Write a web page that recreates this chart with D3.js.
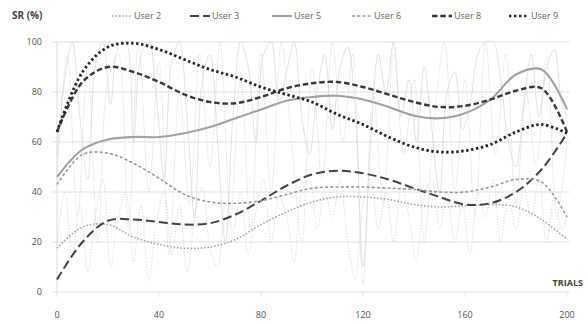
<!DOCTYPE html>
<html>
<head>
<meta charset="utf-8">
<script src="https://cdn.jsdelivr.net/npm/d3@7"></script>
<style>
  html, body { margin: 0; padding: 0; background: #fff; }
  svg { display: block; font-family: "Open Sans", "Liberation Sans", sans-serif; }
</style>
</head>
<body>
<svg id="chart" width="588" height="324"></svg>
<script>
// Trial positions of the smoothed trend curves
const trendTrials = [0,10,20,30,40,50,60,70,80,90,100,110,120,130,140,150,160,170,180,190,200];

// Trend curves of success rate (%) per user
const user2 = [17.5,26,27,22,19,17.5,18,21,27,32,36,38,38,37,35,34,34.5,35,34,29,21];
const user3 = [5,20,28.5,29,28,27,27.5,31,36.5,42.5,47,48.5,47.5,45,41.5,38,35,35.5,40,49,63.5];
const user5 = [46,57,61,62,62,63.5,66,69.5,73,76.5,78,78.5,77,74,70.5,69.5,71.5,77,87,89,73];
const user6 = [43,55,55.5,51.5,45.5,39,36,35.5,36.5,39,41.5,42,42,41.5,41,40,40,42,45,44,30];
const user8 = [64,84,90,88,84,79,76,75.5,78,81.5,83.5,84,82,79,76,74,74.5,77,80.5,81.5,64];
const user9 = [64,88,98,99.5,97,93,89,86,82,79,76,71,67,62,58,56,56.5,59,64,67,63.5];

// Raw per-trial success rates (thin background traces)
const rawTrialsA = [0,3,6,9,12,15,18,21,24,27,30,33,36,39,42,45,48,51,54,57,60,63,66,69,72,75,78,81,84,87,90,93,96,99,102,105,108,111,114,117,120,123,126,129,132,135,138,141,144,147,150,153,156,159,162,165,168,171,174,177,180,183,186,189,192,195,198,200];
const rawHigh = [55,85,100,70,45,90,100,75,98,100,60,95,100,78,45,92,100,70,30,85,95,60,20,70,100,90,60,95,100,75,88,100,70,55,80,95,65,90,98,72,10,60,95,80,100,70,85,60,90,65,40,80,88,65,75,95,100,100,85,60,50,75,95,70,90,97,75,70];
const rawLow = [20,40,15,35,8,30,45,10,30,40,12,35,5,28,40,15,35,8,30,42,18,10,35,25,40,15,32,45,20,38,30,12,40,45,25,40,30,45,20,5,35,45,25,40,20,42,30,12,38,45,25,40,20,35,15,40,30,45,20,38,25,42,30,45,20,38,25,30];
const rawTrialsB = [0,4,8,12,16,20,24,28,32,36,40,44,48,52,56,60,64,68,72,76,80,84,88,92,96,100,104,108,112,116,120,124,128,132,136,140,144,148,152,156,160,164,168,172,176,180,184,188,192,196,200];
const rawMid = [45,95,30,90,20,85,95,25,100,40,92,15,80,35,95,50,100,30,85,25,95,40,100,60,20,90,45,100,60,95,3,80,35,95,55,85,20,70,100,40,85,30,100,55,95,35,80,50,95,30,60];

const yTicks = [0,20,40,60,80,100];
const xTicks = [0,40,80,120,160,200];

const svg = d3.select("#chart");
const x = d3.scaleLinear().domain([0,200]).range([57,567]);
const y = d3.scaleLinear().domain([0,100]).range([292,42]);

// Horizontal gridlines
svg.append("g").selectAll("line").data(yTicks).join("line")
  .attr("x1", 52).attr("x2", 570)
  .attr("y1", d => y(d)).attr("y2", d => y(d))
  .attr("stroke", "#e2e2e2").attr("stroke-width", 1.2);

// Vertical axis line
svg.append("line").attr("x1", x(0)).attr("x2", x(0))
  .attr("y1", y(100)).attr("y2", y(0))
  .attr("stroke", "#dcdcdc").attr("stroke-width", 1);

// Y tick labels
svg.append("g").selectAll("text").data(yTicks).join("text")
  .attr("x", 42).attr("y", d => y(d)).attr("dy", "0.35em")
  .attr("text-anchor", "end").attr("font-size", 9).attr("fill", "#555")
  .text(d => d);

// X tick labels
svg.append("g").selectAll("text").data(xTicks).join("text")
  .attr("x", d => x(d)).attr("y", 318)
  .attr("text-anchor", "middle").attr("font-size", 9).attr("fill", "#555")
  .text(d => d);

// Small tick marks below the baseline
svg.append("g").selectAll("line").data(xTicks).join("line")
  .attr("x1", d => x(d)).attr("x2", d => x(d))
  .attr("y1", y(0)).attr("y2", y(0) + 5)
  .attr("stroke", "#e2e2e2");

// Axis titles
svg.append("text").attr("x", 12).attr("y", 19)
  .attr("font-size", 10).attr("font-weight", "bold").attr("fill", "#444").text("SR (%)");
svg.append("text").attr("x", 583).attr("y", 286).attr("text-anchor", "end")
  .attr("font-size", 9).attr("font-weight", "bold").attr("fill", "#444").text("TRIALS");

const plot = svg.append("g");

// Raw traces
const rawLine = (xs) => d3.line().x((d, i) => x(xs[i])).y(d => y(d)).curve(d3.curveCatmullRom.alpha(0.5));
plot.append("path").attr("d", rawLine(rawTrialsA)(rawLow))
  .attr("fill", "none").attr("stroke", "#d6d6d6").attr("stroke-width", 0.8).attr("stroke-dasharray", "1.5,1.5");
plot.append("path").attr("d", rawLine(rawTrialsB)(rawMid))
  .attr("fill", "none").attr("stroke", "#d4d4d4").attr("stroke-width", 0.8).attr("stroke-dasharray", "1.2,1.2");
plot.append("path").attr("d", rawLine(rawTrialsA)(rawHigh))
  .attr("fill", "none").attr("stroke", "#d9d9d9").attr("stroke-width", 0.8);

// Trend curves and their styles
const series = [
  { name: "User 2", values: user2, color: "#a9a9a9", width: 1.6, dash: "1.6,1.8" },
  { name: "User 3", values: user3, color: "#454545", width: 2, dash: "9,4" },
  { name: "User 5", values: user5, color: "#a2a2a2", width: 2.1, dash: null },
  { name: "User 6", values: user6, color: "#9c9c9c", width: 1.6, dash: "3,2.2" },
  { name: "User 8", values: user8, color: "#3a3a3a", width: 2.4, dash: "5.5,2.8" },
  { name: "User 9", values: user9, color: "#262626", width: 2.8, dash: "2.4,2.6" }
];

const trend = d3.line().x((d, i) => x(trendTrials[i])).y(d => y(d)).curve(d3.curveCatmullRom.alpha(0.5));
plot.selectAll("path.trend").data(series).join("path")
  .attr("class", "trend")
  .attr("d", d => trend(d.values))
  .attr("fill", "none")
  .attr("stroke", d => d.color)
  .attr("stroke-width", d => d.width)
  .attr("stroke-dasharray", d => d.dash);

// Legend
const legendX = [112, 190, 272, 352, 432, 509];
const legend = svg.append("g").selectAll("g").data(series).join("g")
  .attr("transform", (d, i) => `translate(${legendX[i]},16)`);
legend.append("line").attr("x1", 0).attr("x2", 20).attr("y1", 0).attr("y2", 0)
  .attr("stroke", d => d.color).attr("stroke-width", d => Math.min(d.width, 2.4))
  .attr("stroke-dasharray", d => d.dash);
legend.append("text").attr("x", 22).attr("y", 0).attr("dy", "0.35em")
  .attr("font-size", 9).attr("fill", "#666").text(d => d.name);
</script>
</body>
</html>
